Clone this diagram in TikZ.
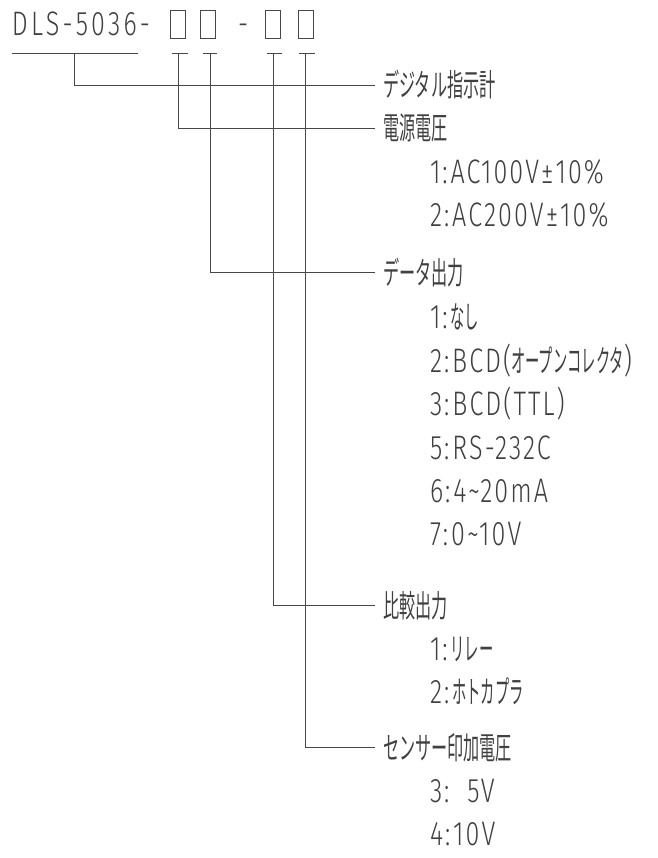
\documentclass[tikz,border=0pt]{standalone}
\usepackage{fontspec}
\newfontfamily\latf[FakeStretch=0.74, LetterSpace=6, UprightFont=* Light]{Fira Sans}
\newfontfamily\jphead[FakeStretch=0.52]{Noto Sans CJK JP}
\newfontfamily\jpitem[FakeStretch=0.46]{Noto Sans CJK JP}
\newcommand{\jh}[1]{{\fontsize{31}{31}\jphead\selectfont #1}}
\newcommand{\ji}[1]{{\fontsize{31}{31}\jpitem\selectfont #1}}
\newcommand{\cn}{\kern2pt:\kern3pt}
\begin{document}
\begin{tikzpicture}[x=1pt,y=-1pt,
  lbl/.style={anchor=base west, inner sep=0pt, outer sep=0pt, text=black!75,
    font=\fontsize{34}{34}\latf\selectfont},
  wire/.style={draw=black!72, line width=0.8pt},
  codebox/.style={draw=black!72, line width=0.8pt, minimum width=15pt,
    minimum height=28pt, inner sep=0pt}]
\useasboundingbox (0,0) rectangle (657,858);

% title
\node[lbl] (title) at (12,36) {\addfontfeature{LetterSpace=9.5}DLS-5036-};
\node[codebox] (b1) at (177.5,24) {};
\node[codebox] (b2) at (208,24) {};
\node[lbl] (dash) at (238,36) {-};
\node[codebox] (b3) at (272.5,24) {};
\node[codebox] (b4) at (305.5,24) {};

% T-bars and underline
\coordinate (u0a) at (12,53);  \coordinate (u0b) at (138,53);
\coordinate (t0) at (74,53);
\coordinate (u1a) at (172,53); \coordinate (u1b) at (188,53); \coordinate (t1) at (178,53);
\coordinate (u2a) at (203,53); \coordinate (u2b) at (217,53); \coordinate (t2) at (210,53);
\coordinate (u3a) at (267,53); \coordinate (u3b) at (282,53); \coordinate (t3) at (273,53);
\coordinate (u4a) at (299,53); \coordinate (u4b) at (315,53); \coordinate (t4) at (305,53);
\draw[wire] (u0a) -- (u0b);
\draw[wire] (u1a) -- (u1b);
\draw[wire] (u2a) -- (u2b);
\draw[wire] (u3a) -- (u3b);
\draw[wire] (u4a) -- (u4b);

% line ends
\coordinate (e0) at (375,85);
\coordinate (e1) at (375,128);
\coordinate (e2) at (375,272);
\coordinate (e3) at (375,605);
\coordinate (e4) at (375,747);

\draw[wire] (t0) |- (e0);
\draw[wire] (t1) |- (e1);
\draw[wire] (t2) |- (e2);
\draw[wire] (t3) |- (e3);
\draw[wire] (t4) |- (e4);

% headings
\node[lbl] (h0) at (383,97) {\jh{デジタル指示計}};
\node[lbl] (h1) at (383,140) {\jh{電源電圧}};
\node[lbl] (h2) at (383,284) {\jh{データ出力}};
\node[lbl] (h3) at (383,617) {\jh{比較出力}};
\node[lbl] (h4) at (383,759) {\jh{センサー印加電圧}};

% items
\node[lbl] (i11) at (430,184) {1\cn AC100V±10\%};
\node[lbl] (i12) at (430,227) {2\cn AC200V±10\%};

\node[lbl] (i21) at (430,328) {1\cn\ji{なし}};
\node[lbl] (i22) at (430,372) {2\cn BCD(\ji{オープンコレクタ})};
\node[lbl] (i23) at (430,415) {3\cn BCD(TTL)};
\node[lbl] (i25) at (430,459) {5\cn RS-232C};
\node[lbl] (i26) at (430,502) {6\cn 4\textasciitilde 20mA};
\node[lbl] (i27) at (430,545) {7\cn 0\textasciitilde 10V};

\node[lbl] (i31) at (430,660) {1\cn\ji{リレー}};
\node[lbl] (i32) at (430,703) {2\cn\ji{ホトカプラ}};

\node[lbl] (i43) at (430,802) {3\cn\hspace{15pt}5V};
\node[lbl] (i44) at (430,845) {4\cn 10V};
\end{tikzpicture}
\end{document}
